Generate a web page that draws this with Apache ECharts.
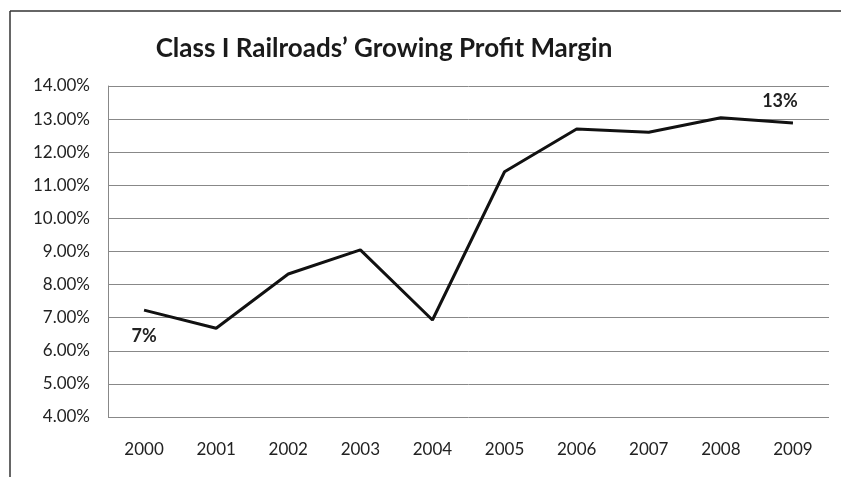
<!DOCTYPE html>
<html>
<head>
<meta charset="utf-8">
<script src="https://cdn.jsdelivr.net/npm/echarts@6/dist/echarts.min.js"></script>
<style>
html,body{margin:0;padding:0;background:#fff;}
#main{width:841px;height:477px;}
</style>
</head>
<body>
<div id="main"></div>
<script>
var titleText = "Class I Railroads\u2019 Growing Profit Margin";
var years = ["2000","2001","2002","2003","2004","2005","2006","2007","2008","2009"];
var margins = [7.23, 6.68, 8.32, 9.05, 6.93, 11.41, 12.70, 12.60, 13.04, 12.88];
var yMin = 4, yMax = 14, yStep = 1;
var endLabels = {0: "7%", 9: "13%"};

var chart = echarts.init(document.getElementById('main'), null, {renderer: 'canvas'});
var fontFam = "Lato, 'Open Sans', sans-serif";

var seriesData = margins.map(function (v, i) {
  var d = {value: v};
  if (i === 0) {
    d.label = {show: true, position: 'bottom', distance: 16, formatter: endLabels[0]};
  } else if (i === 9) {
    d.label = {show: true, position: 'top', distance: 12, offset: [-13, 0], formatter: endLabels[9]};
  }
  return d;
});

chart.setOption({
  animation: false,
  backgroundColor: '#ffffff',
  title: {
    text: titleText,
    left: 379,
    textAlign: 'center',
    top: 31,
    textStyle: {fontFamily: fontFam, fontWeight: 'bold', fontSize: 26, color: '#1a1a1a'}
  },
  graphic: [
    {type: 'line', shape: {x1: 10, y1: 11, x2: 841, y2: 11}, style: {stroke: '#333', lineWidth: 1.5}},
    {type: 'line', shape: {x1: 10, y1: 11, x2: 10, y2: 477}, style: {stroke: '#333', lineWidth: 1.5}}
  ],
  grid: {left: 108, right: 12, top: 86, bottom: 60, containLabel: false},
  xAxis: {
    type: 'category',
    data: years,
    boundaryGap: true,
    axisLine: {show: false},
    axisTick: {show: false},
    axisLabel: {color: '#222', fontFamily: fontFam, fontSize: 17, margin: 24}
  },
  yAxis: {
    type: 'value',
    min: yMin, max: yMax, interval: yStep,
    axisLine: {show: true, lineStyle: {color: '#888', width: 1}},
    axisTick: {show: false},
    splitLine: {show: true, lineStyle: {color: '#888', width: 1}},
    axisLabel: {
      color: '#222', fontFamily: fontFam, fontSize: 17, margin: 18,
      formatter: function (v) { return v.toFixed(2) + '%'; }
    }
  },
  series: [{
    type: 'line',
    data: seriesData,
    symbol: 'circle',
    symbolSize: 2,
    showSymbol: true,
    showAllSymbol: true,
    itemStyle: {color: 'rgba(0,0,0,0)', borderWidth: 0},
    lineStyle: {color: '#111', width: 3},
    label: {show: false, color: '#222', fontFamily: fontFam, fontWeight: 'bold', fontSize: 18},
    z: 5
  }]
});
</script>
</body>
</html>
